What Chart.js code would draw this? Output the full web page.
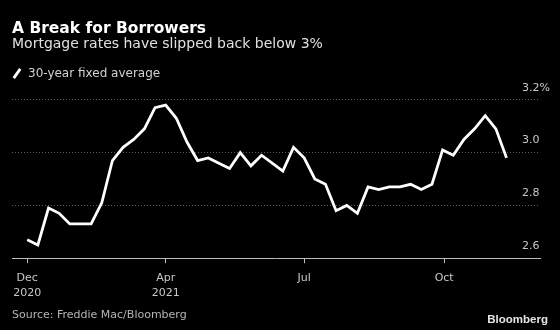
<!DOCTYPE html>
<html>
<head>
<meta charset="utf-8">
<script src="https://cdn.jsdelivr.net/npm/chart.js@4.4.0/dist/chart.umd.min.js"></script>
<style>
  html, body { margin: 0; padding: 0; background: #000; }
</style>
</head>
<body>
<canvas id="rateChart" width="560" height="330"></canvas>
<script>
// Freddie Mac weekly survey, 30-year fixed (%)
const weeks = [
    '2020-12-31', '2021-01-07', '2021-01-14', '2021-01-21', '2021-01-28',
    '2021-02-04', '2021-02-11', '2021-02-18', '2021-02-25', '2021-03-04',
    '2021-03-11', '2021-03-18', '2021-03-25', '2021-04-01', '2021-04-08',
    '2021-04-15', '2021-04-22', '2021-04-29', '2021-05-06', '2021-05-13',
    '2021-05-20', '2021-05-27', '2021-06-03', '2021-06-10', '2021-06-17',
    '2021-06-24', '2021-07-01', '2021-07-08', '2021-07-15', '2021-07-22',
    '2021-07-29', '2021-08-05', '2021-08-12', '2021-08-19', '2021-08-26',
    '2021-09-02', '2021-09-09', '2021-09-16', '2021-09-23', '2021-09-30',
    '2021-10-07', '2021-10-14', '2021-10-21', '2021-10-28', '2021-11-04',
    '2021-11-11',
];
const rates = [
    2.67, 2.65, 2.79, 2.77, 2.73,
    2.73, 2.73, 2.81, 2.97, 3.02,
    3.05, 3.09, 3.17, 3.18, 3.13,
    3.04, 2.97, 2.98, 2.96, 2.94,
    3.00, 2.95, 2.99, 2.96, 2.93,
    3.02, 2.98, 2.90, 2.88, 2.78,
    2.80, 2.77, 2.87, 2.86, 2.87,
    2.87, 2.88, 2.86, 2.88, 3.01,
    2.99, 3.05, 3.09, 3.14, 3.09,
    2.98,
];
const tickDates = ['2020-12-31', '2021-04-01', '2021-07-01', '2021-10-01'];
const tickLabels = [['Dec', '2020'], ['Apr', '2021'], 'Jul', 'Oct'];
const yTicks = [2.6, 2.8, 3.0, 3.2];

const FONT = 'DejaVu Sans';
Chart.defaults.font.family = FONT;

// days since the first survey week
const start = Date.parse(weeks[0]);
const dayOf = d => Math.round((Date.parse(d) - start) / 86400000);

const footer = {
    id: 'footer',
    afterDraw(chart) {
        const ctx = chart.ctx;
        ctx.save();
        ctx.textBaseline = 'alphabetic';
        ctx.textAlign = 'left';
        ctx.font = '11px "DejaVu Sans"';
        ctx.fillStyle = '#b4b4b4';
        ctx.fillText('Source: Freddie Mac/Bloomberg', 12, 318);
        ctx.textAlign = 'right';
        ctx.font = 'bold 11.5px "Liberation Sans"';
        ctx.fillStyle = '#e6e6e6';
        ctx.fillText('Bloomberg', 548, 323);
        ctx.restore();
    },
};

const ctx = document.getElementById('rateChart').getContext('2d');
new Chart(ctx, {
    type: 'line',
    data: {
        datasets: [
            {
                label: '30-year fixed average',
                data: weeks.map((w, i) => ({ x: dayOf(w), y: rates[i] })),
                borderColor: '#ffffff',
                backgroundColor: '#ffffff',
                borderWidth: 2.8,
                pointRadius: 0,
                pointHoverRadius: 0,
                pointStyle: 'line',
                pointRotation: -55,
                tension: 0,
            },
        ],
    },
    options: {
        responsive: false,
        animation: false,
        events: [],
        layout: {
            padding: { left: 12, right: 0, top: 0, bottom: 22 },
        },
        scales: {
            x: {
                type: 'linear',
                min: -10,
                max: 337,
                afterBuildTicks: scale => {
                    scale.ticks = tickDates.map(d => ({ value: dayOf(d) }));
                },
                grid: { drawOnChartArea: false, drawTicks: true, tickLength: 5, tickColor: '#bdbdbd' },
                border: { display: true, color: '#bdbdbd', width: 1 },
                ticks: {
                    color: '#c8c8c8',
                    font: { size: 11, lineHeight: 1.4 },
                    padding: 7,
                    maxRotation: 0,
                    autoSkip: false,
                    callback: (value, index) => tickLabels[index],
                },
            },
            y: {
                position: 'right',
                min: 2.6,
                max: 3.239,
                afterBuildTicks: scale => {
                    scale.ticks = yTicks.map(v => ({ value: v }));
                },
                grid: {
                    color: c => (c.tick && c.tick.value === 2.6 ? 'rgba(0,0,0,0)' : '#5c5c5c'),
                    drawTicks: false,
                },
                border: { display: false, dash: [1, 2] },
                ticks: {
                    mirror: true,
                    crossAlign: 'far',
                    padding: 10,
                    labelOffset: -12,
                    color: '#c8c8c8',
                    font: { size: 11 },
                    callback: v => (v === 3.2 ? '3.2%' : v.toFixed(1)),
                },
            },
        },
        plugins: {
            title: {
                display: true,
                text: 'A Break for Borrowers',
                align: 'start',
                color: '#ffffff',
                font: { size: 15.5, weight: 'bold', lineHeight: 1 },
                padding: { top: 21.5, bottom: 0 },
            },
            subtitle: {
                display: true,
                text: 'Mortgage rates have slipped back below 3%',
                align: 'start',
                color: '#e0e0e0',
                font: { size: 14, lineHeight: 1 },
                padding: { top: 0, bottom: 16.5 },
            },
            legend: {
                display: true,
                position: 'top',
                align: 'start',
                labels: {
                    usePointStyle: true,
                    boxWidth: 10,
                    boxHeight: 8,
                    padding: 0,
                    color: '#d2d2d2',
                    font: { size: 12 },
                },
            },
            tooltip: { enabled: false },
        },
    },
    plugins: [footer],
});
</script>
</body>
</html>
